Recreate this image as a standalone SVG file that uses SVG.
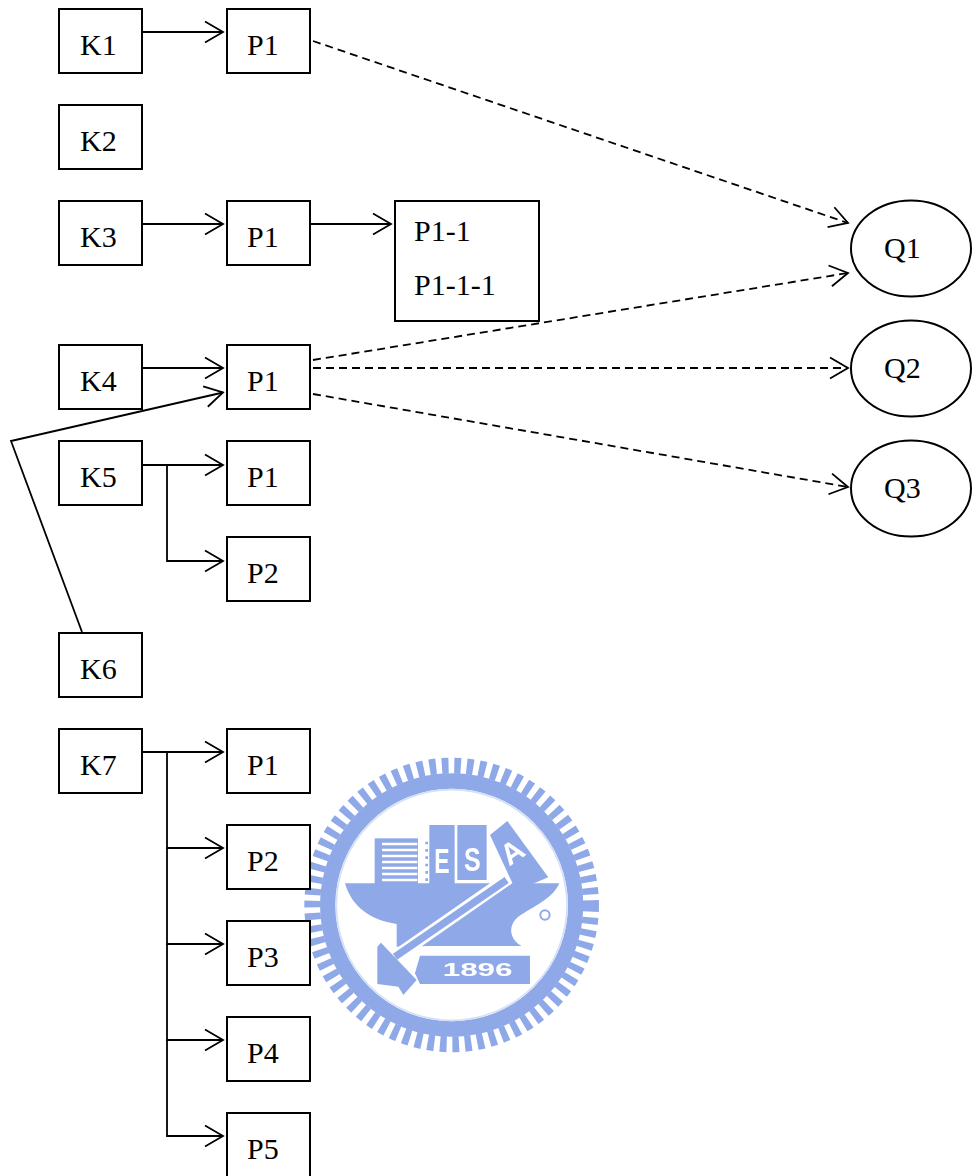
<svg xmlns="http://www.w3.org/2000/svg" width="973" height="1176" viewBox="0 0 973 1176">
<style>
.n{fill:#fff;stroke:#000;stroke-width:2}
.t{font-family:"Liberation Serif","Times New Roman",serif;font-size:30px;fill:#000}
.c{fill:none;stroke:#000;stroke-width:1.8}
.d{stroke-dasharray:8 5}
.a{marker-end:url(#arr)}
.lb{fill:#8fa9e8}
.lt{font-family:"Liberation Sans",Arial,sans-serif;fill:#fff}
</style>
<defs>
<marker id="arr" markerUnits="userSpaceOnUse" markerWidth="24" markerHeight="28" refX="19" refY="12" orient="auto" viewBox="0 0 24 28">
<path d="M1 1.500 L19 12 L1 22.500" fill="none" stroke="#000" stroke-width="1.800"/>
</marker>
<filter id="soft" x="-5%" y="-5%" width="110%" height="110%"><feGaussianBlur stdDeviation="2"/></filter>
</defs>
<rect width="973" height="1176" fill="#fff"/>
<g id="seal" transform="translate(300 770) scale(.3333)" filter="url(#soft)">
<circle cx="455" cy="405" r="418" fill="none" stroke="#8fa9e8" stroke-width="48" stroke-dasharray="20 17.300"/>
<circle cx="455" cy="405" r="372" fill="none" stroke="#8fa9e8" stroke-width="46"/>
<circle cx="455" cy="405" r="346" fill="none" stroke="#d5dff7" stroke-width="5"/>
<rect class="lb" x="224" y="205" width="130" height="140"/>
<path d="M246 222H352M246 240H352M246 258H352M246 276H352M246 294H352M246 312H352M246 330H352" stroke="#fff" stroke-width="7" fill="none"/>
<path d="M380 215V335" stroke="#8fa9e8" stroke-width="8" stroke-dasharray="8 14" fill="none"/>
<rect class="lb" x="388" y="165" width="76" height="180"/>
<rect class="lb" x="472" y="165" width="88" height="165"/>
<path class="lb" d="M570 195L622 153L745 322L690 345L640 345Z"/>
<path class="lb" d="M135 340H778C760 385 700 410 655 440C625 465 625 505 665 528H390L290 530V462C210 450 155 410 135 340Z"/>
<path d="M625 325L280 565" stroke="#fff" stroke-width="38" fill="none"/>
<path d="M620 330L285 560" stroke="#8fa9e8" stroke-width="22" fill="none"/>
<path class="lb" d="M232 530L243 518L350 630L310 675L295 650L232 642Z"/>
<path class="lb" d="M360 557H690V642H360L345 610Z"/>
<circle cx="735" cy="435" r="14" fill="none" stroke="#8fa9e8" stroke-width="6"/>
<text class="lt" x="403" y="308" font-size="105" font-weight="bold" textLength="46" lengthAdjust="spacingAndGlyphs">E</text>
<text class="lt" x="492" y="304" font-size="100" font-weight="bold" textLength="50" lengthAdjust="spacingAndGlyphs">S</text>
<text class="lt" font-size="90" font-weight="bold" transform="translate(628 290) rotate(-35)">A</text>
<text class="lt" x="428" y="618" font-size="56" font-weight="bold" textLength="210" lengthAdjust="spacingAndGlyphs">1896</text>
</g>
<g id="connectors">
<path class="c a" d="M143 32H223"/>
<path class="c a" d="M143 224H223"/>
<path class="c a" d="M311 224H391"/>
<path class="c a" d="M143 368H223"/>
<path class="c a" d="M82 632L11 441L223 392.500"/>
<path class="c a" d="M143 465H223"/>
<path class="c a" d="M167 465V561H223"/>
<path class="c a" d="M143 752H223"/>
<path class="c a" d="M167 752V848H223"/>
<path class="c a" d="M167 848V944H223"/>
<path class="c a" d="M167 944V1040H223"/>
<path class="c a" d="M167 1040V1136H223"/>
<path class="c d a" d="M313 41L848 223"/>
<path class="c d a" d="M313 360L848 273"/>
<path class="c d a" d="M313 368H848"/>
<path class="c d a" d="M313 394L848 487"/>
</g>
<g id="K1"><rect class="n" x="59" y="9" width="83" height="64"/><text class="t" x="80" y="55">K1</text></g>
<g id="K2"><rect class="n" x="59" y="105" width="83" height="64"/><text class="t" x="80" y="151">K2</text></g>
<g id="K3"><rect class="n" x="59" y="201" width="83" height="64"/><text class="t" x="80" y="247">K3</text></g>
<g id="K4"><rect class="n" x="59" y="345" width="83" height="64"/><text class="t" x="80" y="391">K4</text></g>
<g id="K5"><rect class="n" x="59" y="441" width="83" height="64"/><text class="t" x="80" y="487">K5</text></g>
<g id="K6"><rect class="n" x="59" y="633" width="83" height="64"/><text class="t" x="80" y="679">K6</text></g>
<g id="K7"><rect class="n" x="59" y="729" width="83" height="64"/><text class="t" x="80" y="775">K7</text></g>
<g id="P1a"><rect class="n" x="227" y="9" width="83" height="64"/><text class="t" x="247" y="55">P1</text></g>
<g id="P1b"><rect class="n" x="227" y="201" width="83" height="64"/><text class="t" x="247" y="247">P1</text></g>
<g id="P1-1box"><rect class="n" x="395" y="201" width="144" height="120"/><text class="t" x="414" y="241">P1-1</text><text class="t" x="414" y="295">P1-1-1</text></g>
<g id="P1c"><rect class="n" x="227" y="345" width="83" height="64"/><text class="t" x="247" y="391">P1</text></g>
<g id="P1d"><rect class="n" x="227" y="441" width="83" height="64"/><text class="t" x="247" y="487">P1</text></g>
<g id="P2a"><rect class="n" x="227" y="537" width="83" height="64"/><text class="t" x="247" y="583">P2</text></g>
<g id="P1e"><rect class="n" x="227" y="729" width="83" height="64"/><text class="t" x="247" y="775">P1</text></g>
<g id="P2b"><rect class="n" x="227" y="825" width="83" height="64"/><text class="t" x="247" y="871">P2</text></g>
<g id="P3"><rect class="n" x="227" y="921" width="83" height="64"/><text class="t" x="247" y="967">P3</text></g>
<g id="P4"><rect class="n" x="227" y="1017" width="83" height="64"/><text class="t" x="247" y="1063">P4</text></g>
<g id="P5"><rect class="n" x="227" y="1113" width="83" height="64"/><text class="t" x="247" y="1159">P5</text></g>
<g id="Q1"><ellipse class="n" cx="911" cy="248.500" rx="60" ry="48"/><text class="t" x="884" y="258">Q1</text></g>
<g id="Q2"><ellipse class="n" cx="911" cy="368.500" rx="60" ry="48"/><text class="t" x="884" y="378">Q2</text></g>
<g id="Q3"><ellipse class="n" cx="911" cy="488.500" rx="60" ry="48"/><text class="t" x="884" y="498">Q3</text></g>
</svg>
